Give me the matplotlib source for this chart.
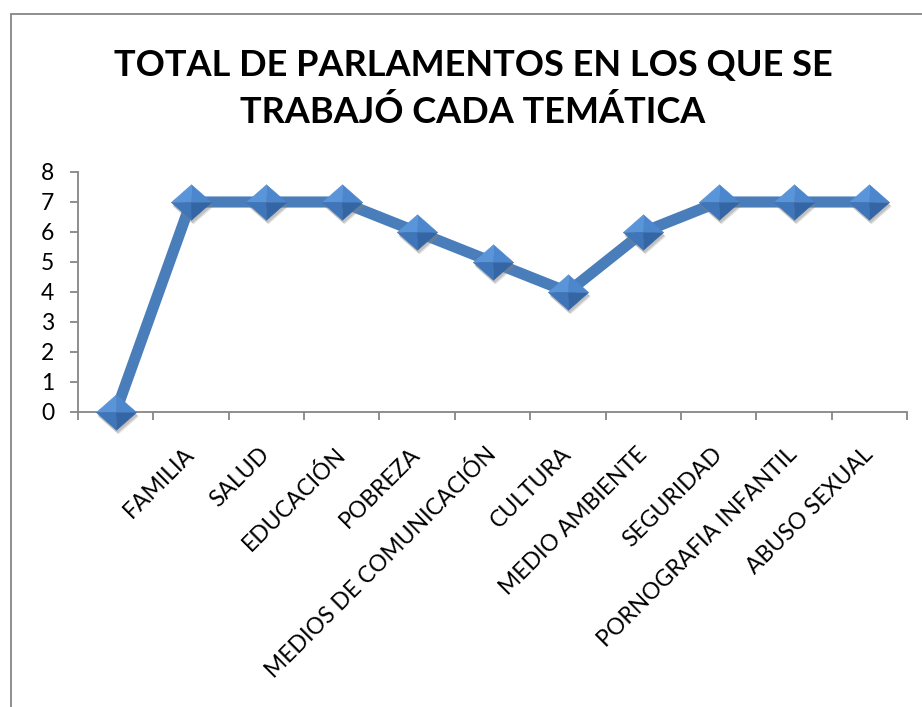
import matplotlib
matplotlib.use("Agg")
import matplotlib.pyplot as plt
import matplotlib.patches as mpatches
import matplotlib.transforms as mtransforms
import numpy as np

categories = ["", "FAMILIA", "SALUD", "EDUCACIÓN", "POBREZA",
              "MEDIOS DE COMUNICACIÓN", "CULTURA", "MEDIO AMBIENTE",
              "SEGURIDAD", "PORNOGRAFIA INFANTIL", "ABUSO SEXUAL"]
values = [0, 7, 7, 7, 6, 5, 4, 6, 7, 7, 7]
title = "TOTAL DE PARLAMENTOS EN LOS QUE SE\nTRABAJÓ CADA TEMÁTICA"

plt.rcParams["font.family"] = ["Lato", "DejaVu Sans"]

W, H = 922, 707
fig = plt.figure(figsize=(W / 100, H / 100), dpi=100)

# chart frame (runs off the right and bottom edges)
fig.patches.append(mpatches.Rectangle(
    (11 / W, -0.1), 1.2, 1 - 14 / H + 0.1, transform=fig.transFigure,
    fill=False, edgecolor="#868686", linewidth=1.3))

ax = fig.add_axes([78 / W, 1 - 412 / H, (907 - 78) / W, (412 - 172) / H])
x = np.arange(len(categories))

ax.plot(x, values, color="#4A7EBB", linewidth=8, solid_joinstyle="miter",
        zorder=3, clip_on=False)

# bevelled diamond markers: soft shadow + four shaded facets
k = 0.88
ms = 29
diamond = [(-1, 0), (0, k), (1, 0), (0, -k)]
for dx, dy, a in [(2, -4, 0.25), (1, -3, 0.3)]:
    shadow = mtransforms.offset_copy(ax.transData, fig=fig, x=dx, y=dy, units="dots")
    ax.plot(x, values, linestyle="none", marker=diamond, markersize=ms,
            color="#7f7f7f", alpha=a, markeredgewidth=0,
            transform=shadow, zorder=4, clip_on=False)
facets = [
    ([(-1, 0), (0, k), (0, 0)], "#5B95D9"),
    ([(0, k), (1, 0), (0, 0)], "#4C86CC"),
    ([(0, -k), (-1, 0), (0, 0)], "#3F75B9"),
    ([(1, 0), (0, -k), (0, 0)], "#3466A6"),
]
for verts, col in facets:
    ax.plot(x, values, linestyle="none", marker=verts, markersize=ms,
            color=col, markeredgecolor=col, markeredgewidth=0.4,
            zorder=5, clip_on=False)

ax.set_xlim(-0.5, len(categories) - 0.5)
ax.set_ylim(0, 8)
ax.set_yticks(range(0, 9))
ax.set_xticks(np.arange(-0.5, len(categories), 1))
ax.set_xticklabels([])
ax.set_xticks(x, minor=True)
ax.set_xticklabels(categories, minor=True, rotation=45, ha="right",
                   va="center", rotation_mode="anchor", fontsize=16.5)

for side in ["top", "right"]:
    ax.spines[side].set_visible(False)
for side in ["left", "bottom"]:
    ax.spines[side].set_color("#868686")
    ax.spines[side].set_linewidth(1.3)

ax.tick_params(axis="y", length=6, width=1.3, color="#868686", pad=11,
               labelsize=16.5)
ax.tick_params(axis="x", which="major", length=6, width=1.3, color="#868686")
ax.tick_params(axis="x", which="minor", length=0, pad=28)

fig.text(473 / W, 1 - 89 / H, title, ha="center", va="center",
         fontsize=26, fontweight="bold", linespacing=1.45)

fig.savefig("out.png", dpi=100)
